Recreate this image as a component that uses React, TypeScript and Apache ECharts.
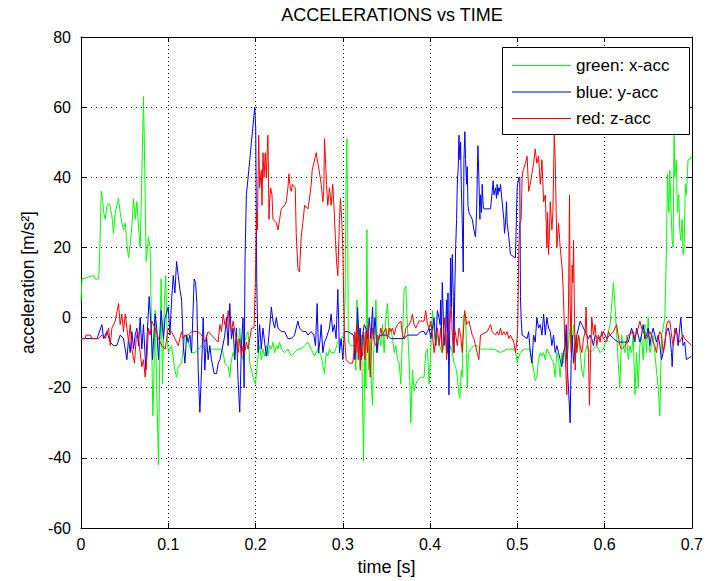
import React, { useEffect, useRef } from "react";
import * as echarts from "echarts";

const titleText = "ACCELERATIONS vs TIME";
const xName = "time [s]";
const yName = "acceleration [m/s²]";
const seriesNames = ["green: x-acc", "blue: y-acc", "red: z-acc"];
const seriesColors = ["#00ff00", "#0000ff", "#ff0000"];
const xTicks = [0, 0.1, 0.2, 0.3, 0.4, 0.5, 0.6, 0.7];
const yTicks = [-60, -40, -20, 0, 20, 40, 60, 80];

// x-acc (green): [time s, acceleration m/s^2]
const xAcc: [number, number][] = [
  [0, 4.5], [0.0011, 11], [0.0145, 12], [0.0164, 11], [0.0202, 11], [0.0213, 17], [0.0232, 36],
  [0.0247, 34], [0.0259, 30], [0.0278, 28], [0.0297, 32], [0.0327, 32.5], [0.0354, 29], [0.0373, 24],
  [0.0392, 30], [0.043, 34], [0.0449, 30], [0.0468, 27], [0.0487, 25], [0.0507, 27], [0.0526, 21],
  [0.0545, 17], [0.0564, 21], [0.0583, 26], [0.0602, 34], [0.0621, 28], [0.064, 33], [0.0659, 26],
  [0.0678, 20], [0.0697, 40], [0.0716, 63], [0.0727, 48], [0.0746, 16], [0.0773, 23], [0.0792, 20],
  [0.0804, 3], [0.0823, -28], [0.0834, -18], [0.0849, 2], [0.0868, -20], [0.0888, -42], [0.0903, -10],
  [0.0918, 11], [0.0933, -19], [0.0956, 5], [0.0971, 12], [0.0987, -5], [0.1, -10], [0.1038, -8],
  [0.1076, -15], [0.1095, -17], [0.1114, -14], [0.1153, -13], [0.1191, -5], [0.1229, -7], [0.1267, -10],
  [0.1305, -10], [0.1343, -9], [0.1381, -8], [0.1419, -9], [0.1457, -10], [0.1495, -9], [0.1534, -9],
  [0.161, -9], [0.1629, -10], [0.1648, -13], [0.1686, -14], [0.1705, -17], [0.1724, -12], [0.1743, -10],
  [0.1762, -12], [0.1781, -6], [0.18, -8], [0.1819, -3], [0.1838, -10], [0.1857, -12], [0.1876, -7],
  [0.1895, -5], [0.1915, -4], [0.1934, -13], [0.1972, -17], [0.1998, -19], [0.2029, -11], [0.2047, -8],
  [0.2066, -12], [0.2085, -9], [0.2104, -11], [0.2123, -8], [0.2142, -11], [0.2161, -8], [0.2181, -9],
  [0.22, -7], [0.2219, -10], [0.2238, -8], [0.2257, -9], [0.2276, -7], [0.2295, -9], [0.2333, -10],
  [0.2371, -9], [0.2409, -11], [0.2447, -10], [0.2485, -9], [0.2523, -9], [0.2562, -8], [0.26, -7],
  [0.2638, -9], [0.2676, -11], [0.2714, -9], [0.2752, -11], [0.279, -16], [0.2809, -10], [0.2828, -11],
  [0.2847, -9], [0.2866, -10], [0.2904, -10], [0.2943, -7], [0.2981, -6], [0.3011, -5], [0.3026, 5],
  [0.3036, 36], [0.3047, 51], [0.3055, 30], [0.3063, -7], [0.3093, -8], [0.3131, -8], [0.315, -15],
  [0.3162, 5], [0.3177, -10], [0.3188, -3], [0.32, -14], [0.3215, -5], [0.3227, -25], [0.3238, -41],
  [0.3253, -5], [0.3265, -20], [0.3276, 25], [0.3284, -2], [0.3295, -15], [0.3314, -5], [0.3329, -20],
  [0.3341, -25], [0.3352, -10], [0.3368, -5], [0.3379, 5], [0.3398, -10], [0.3417, -5], [0.3436, -8],
  [0.3455, -2], [0.3474, -10], [0.3493, 0], [0.3512, 4], [0.3531, -5], [0.355, -3], [0.357, -6],
  [0.3589, -10], [0.3608, -8], [0.3627, -12], [0.3646, -13], [0.3665, -19], [0.3684, -5], [0.3703, 8],
  [0.3722, 9], [0.3741, -3], [0.3752, -8], [0.3768, -18], [0.3779, -30], [0.3798, -15], [0.3817, -21],
  [0.3836, -19], [0.3855, -18], [0.3893, -17], [0.3931, -17], [0.395, -10], [0.397, -9], [0.3989, -19],
  [0.4, -14], [0.4015, -5], [0.4027, 2], [0.4046, -4], [0.4065, -8], [0.4084, -5], [0.4121, -9],
  [0.414, -10], [0.4159, -8], [0.4178, -6], [0.4197, -10], [0.4216, -11], [0.4236, -8], [0.4255, -10],
  [0.4274, -13], [0.4293, -14], [0.4312, -17], [0.4331, -22], [0.4342, -23], [0.4357, -15], [0.4369, -17],
  [0.438, 0], [0.4396, 1], [0.4407, 1], [0.4418, -10], [0.4426, -20], [0.4437, -12], [0.4445, -10],
  [0.4464, -9], [0.4502, -8], [0.454, -8], [0.4578, -9], [0.4655, -9], [0.4731, -9], [0.4807, -10],
  [0.4883, -9], [0.4978, -9], [0.4998, -13], [0.5017, -11], [0.5036, -10], [0.5074, -9], [0.511, -9],
  [0.5148, -9], [0.5167, -12], [0.5186, -15], [0.5205, -18], [0.5224, -17], [0.5243, -12], [0.5263, -10],
  [0.5282, -11], [0.5301, -10], [0.532, -12], [0.5339, -9], [0.5377, -11], [0.5415, -13], [0.5434, -17],
  [0.5453, -10], [0.5472, -12], [0.5491, -17], [0.551, -10], [0.5529, -13], [0.5548, -5], [0.5567, -12],
  [0.5586, -8], [0.5605, -3], [0.5624, -10], [0.5644, -2], [0.5663, -12], [0.5682, -7], [0.5701, -5],
  [0.572, -10], [0.5739, -15], [0.5758, -17], [0.5777, -10], [0.5796, -8], [0.5834, -10], [0.5872, -9],
  [0.591, -8], [0.5948, -10], [0.5986, -9], [0.6025, -6], [0.6044, -4], [0.6063, -2], [0.6082, 4],
  [0.6101, 10], [0.612, 3], [0.6139, -5], [0.6156, -13], [0.6175, -20], [0.6194, -5], [0.6213, -8],
  [0.6233, -10], [0.6252, -5], [0.6271, -12], [0.629, -8], [0.6309, -10], [0.6328, -5], [0.6347, -22],
  [0.6366, -10], [0.6385, -20], [0.6404, -8], [0.6423, -5], [0.6442, -12], [0.6461, -2], [0.648, -10],
  [0.6499, 0], [0.6518, -10], [0.6537, -8], [0.6556, -5], [0.6575, -10], [0.6594, -15], [0.6614, -20],
  [0.6633, -28], [0.6652, -5], [0.6671, -3], [0.669, 0], [0.6709, 20], [0.672, 41], [0.6735, 30],
  [0.6747, 42], [0.6758, 33], [0.6774, 22], [0.6785, 20], [0.6796, 52], [0.6804, 40], [0.6823, 45],
  [0.6834, 30], [0.685, 35], [0.6861, 25], [0.6873, 22], [0.6888, 28], [0.6899, 18], [0.6911, 20],
  [0.6926, 38], [0.6937, 35], [0.6956, 45], [0.6975, 45], [0.6995, 46],
];

// y-acc (blue)
const yAcc: [number, number][] = [
  [0, -6], [0.0183, -6], [0.024, -2], [0.0259, -6], [0.0297, -4], [0.0335, -7], [0.0373, -8],
  [0.0411, -8], [0.0449, -5], [0.0487, -6], [0.0526, -12], [0.0545, -6], [0.0564, -10], [0.0583, -4],
  [0.0602, -9], [0.0621, -5], [0.064, -3], [0.0659, -8], [0.0678, 0], [0.0697, -9], [0.0716, -2],
  [0.0743, -15], [0.0754, -7], [0.0781, 6], [0.0804, -3], [0.0819, -12], [0.0849, 1], [0.0868, -3],
  [0.0888, -12], [0.0918, 2], [0.0945, -6], [0.0964, 0], [0.1, 3], [0.1019, -5], [0.1038, 5],
  [0.1057, 12], [0.1076, 7], [0.1095, 16], [0.1114, 12], [0.1133, 8], [0.1153, 5], [0.1172, -8],
  [0.1191, -13], [0.121, -5], [0.1229, -7], [0.1248, -5], [0.1267, -10], [0.1297, 11], [0.1313, 10],
  [0.1328, 4], [0.1343, -15], [0.1362, -27], [0.1381, -15], [0.14, 0], [0.1419, -15], [0.1438, -5],
  [0.1457, -12], [0.1476, -8], [0.1495, -12], [0.1526, -16], [0.1553, -16], [0.1572, -13], [0.1591, -12],
  [0.161, -10], [0.1648, -5], [0.1667, 0], [0.1686, -8], [0.1705, 4], [0.1724, -6], [0.1743, -3],
  [0.1762, -12], [0.1781, -3], [0.18, -18], [0.1819, -27], [0.1838, -8], [0.1857, 0], [0.1869, -20],
  [0.188, 17], [0.1895, 35], [0.1915, 40], [0.1934, 45], [0.1953, 50], [0.1972, 55], [0.1991, 60],
  [0.2002, 54], [0.2014, 10], [0.2029, -10], [0.2036, -6], [0.2047, -2], [0.2066, -9], [0.2085, -3],
  [0.2104, -7], [0.2123, -11], [0.2142, -8], [0.2161, -3], [0.2181, 3], [0.22, -1], [0.2219, -3],
  [0.2238, 0], [0.2257, -3], [0.2295, -4], [0.2333, -4], [0.2371, -6], [0.2409, -6], [0.2447, -5],
  [0.2485, -1], [0.2504, -3], [0.2542, -4], [0.2581, -4], [0.26, -5], [0.2638, -4], [0.2668, -5],
  [0.2687, -8], [0.2706, 4], [0.2722, -10], [0.2741, -6], [0.2752, -2], [0.2771, -10], [0.279, -7],
  [0.2809, -6], [0.2847, -3], [0.2866, 1], [0.2885, -4], [0.2904, -2], [0.2923, -6], [0.2943, 8],
  [0.2962, -10], [0.2981, -6], [0.3, -12], [0.3019, -4], [0.3057, -4], [0.3124, -5], [0.3139, -12],
  [0.315, -8], [0.3162, -3], [0.3169, 3], [0.3188, -7], [0.32, -3], [0.3208, -12], [0.3227, -5],
  [0.3246, -2], [0.3265, -3], [0.3284, -6], [0.3303, 0], [0.3322, -6], [0.3341, 3], [0.3352, -6],
  [0.3368, 0], [0.3379, -3], [0.339, -10], [0.3406, -6], [0.3436, -5], [0.3512, -5], [0.355, -6],
  [0.3703, -6], [0.3741, -5], [0.3855, -5], [0.3893, -4], [0.3931, -4], [0.395, -5], [0.397, -4],
  [0.3989, -3], [0.4008, -6], [0.4027, -3], [0.4046, 0], [0.4065, -8], [0.4084, 2], [0.4102, 0],
  [0.4114, -2], [0.4121, 5], [0.4129, -6], [0.414, 10], [0.4152, 0], [0.4159, -8], [0.4178, -3],
  [0.419, 5], [0.4197, -10], [0.4205, 7], [0.4216, -22], [0.4228, 2], [0.4236, 17], [0.4243, 3],
  [0.4255, 18], [0.4266, 6], [0.4274, -10], [0.4281, 5], [0.4293, 20], [0.4304, 28], [0.4312, 38],
  [0.4323, 43], [0.4331, 52], [0.4342, 45], [0.435, 50], [0.4357, 38], [0.4369, 27], [0.438, 13],
  [0.4388, 45], [0.4399, 53], [0.4407, 45], [0.4418, 38], [0.4426, 43], [0.4434, 32], [0.4445, 30],
  [0.4483, 28], [0.4502, 25], [0.4521, 23], [0.4533, 30], [0.4548, 49], [0.4559, 40], [0.4571, 28],
  [0.4578, 35], [0.459, 30], [0.4597, 38], [0.4609, 32], [0.4617, 31], [0.4693, 31], [0.4712, 36],
  [0.4723, 39], [0.4731, 35], [0.475, 37], [0.4761, 34], [0.4769, 38], [0.4777, 35], [0.4788, 37],
  [0.4799, 36], [0.4807, 38], [0.4826, 33], [0.4845, 28], [0.4853, 24], [0.4864, 27], [0.4876, 33],
  [0.4883, 27], [0.4902, 23], [0.4914, 20], [0.4921, 18], [0.4978, 17], [0.4998, 37], [0.5017, 40],
  [0.5028, 40], [0.5036, 6], [0.5043, 0], [0.5055, -5], [0.5112, -6], [0.513, -4], [0.5148, -10],
  [0.5167, -13], [0.5186, -5], [0.5205, -7], [0.5224, 0], [0.5243, -3], [0.5263, -2], [0.5282, -5],
  [0.5301, 1], [0.532, -5], [0.5339, 0], [0.5358, -3], [0.5377, -4], [0.5396, -8], [0.5415, -5],
  [0.5434, -10], [0.5453, -8], [0.5472, -10], [0.5491, -12], [0.551, -14], [0.5529, -10], [0.5548, -8],
  [0.556, -2], [0.5567, -12], [0.5579, -17], [0.559, -22], [0.5605, -30], [0.5617, -12], [0.5628, -5],
  [0.5644, -13], [0.5663, -8], [0.5682, -5], [0.5701, -3], [0.572, -1], [0.5739, -2], [0.5758, -3],
  [0.5796, -5], [0.5815, -6], [0.5834, -5], [0.5853, -6], [0.5872, -8], [0.5891, -5], [0.5929, -6],
  [0.5967, -5], [0.5986, -4], [0.6025, -6], [0.6063, -5], [0.6101, -6], [0.6156, -7], [0.6271, -7],
  [0.629, -5], [0.6309, -3], [0.6328, -5], [0.6347, -7], [0.6366, -3], [0.6385, -5], [0.6404, -7],
  [0.6423, -5], [0.6442, -2], [0.6461, -6], [0.648, -5], [0.6499, -3], [0.6518, -8], [0.6537, -5],
  [0.6556, -3], [0.6575, -5], [0.6594, -7], [0.6614, -5], [0.6633, -8], [0.6652, -12], [0.6671, -10],
  [0.669, -7], [0.6709, -4], [0.6728, -3], [0.6747, -5], [0.6766, -10], [0.6774, -14], [0.6785, -8],
  [0.6804, -5], [0.6823, -3], [0.6842, -8], [0.6861, -3], [0.6873, 0], [0.6888, -5], [0.6899, -8],
  [0.6918, -7], [0.6937, -12], [0.6995, -11],
];

// z-acc (red)
const zAcc: [number, number][] = [
  [0, -6], [0.0049, -6], [0.0057, -5], [0.0106, -5], [0.0126, -6], [0.0202, -6], [0.024, -5],
  [0.0278, -6], [0.0316, -3], [0.0335, -8], [0.0354, -3], [0.0392, -1], [0.043, 4], [0.0449, -2],
  [0.0468, 1], [0.0487, -4], [0.0507, 1], [0.0526, -3], [0.0545, -7], [0.0564, -2], [0.0583, -9],
  [0.0613, -13], [0.0632, -6], [0.0651, -4], [0.0678, -10], [0.0697, -14], [0.0716, -12], [0.0735, -17],
  [0.0754, -12], [0.0773, -3], [0.0792, -5], [0.0811, -1], [0.0849, -3], [0.0888, -6], [0.0926, -8],
  [0.0964, -9], [0.1, -3], [0.1038, -4], [0.1076, -6], [0.1114, -8], [0.1153, -4], [0.1172, -6],
  [0.1191, -5], [0.1229, -5], [0.1267, -4], [0.1343, -4], [0.1381, -5], [0.1419, -7], [0.1457, -4],
  [0.1495, -5], [0.1534, -6], [0.1572, -7], [0.1591, -2], [0.161, -4], [0.1629, 1], [0.1648, -2],
  [0.1667, -3], [0.1686, 2], [0.1705, -2], [0.1724, -4], [0.1743, -1], [0.1762, -4], [0.1781, -6],
  [0.18, -10], [0.1819, -6], [0.1838, -11], [0.1857, -8], [0.1876, -10], [0.1895, -7], [0.1915, -9],
  [0.1934, -6], [0.1953, -3], [0.1983, -3], [0.1998, 10], [0.201, 30], [0.2021, 25], [0.2036, 52],
  [0.2047, 37], [0.2066, 42], [0.2074, 32], [0.2085, 47], [0.2097, 40], [0.2112, 47], [0.2123, 40],
  [0.2135, 48], [0.2142, 52], [0.2154, 28], [0.2161, 33], [0.2173, 37], [0.2188, 35], [0.22, 28],
  [0.2238, 27], [0.2257, 25], [0.2276, 28], [0.2295, 31], [0.2333, 32], [0.2352, 33], [0.2371, 37],
  [0.2382, 41], [0.2398, 37], [0.2409, 36], [0.2421, 38], [0.2455, 37], [0.2466, 24], [0.2485, 14],
  [0.2504, 13], [0.2523, 23], [0.2542, 27], [0.2562, 32], [0.26, 31], [0.2619, 34], [0.2638, 38],
  [0.2649, 42], [0.2668, 44], [0.2695, 47], [0.2706, 45], [0.2722, 43], [0.2741, 40], [0.2752, 38],
  [0.2771, 33], [0.2782, 36], [0.279, 51], [0.2802, 45], [0.2813, 38], [0.2828, 32], [0.2847, 37],
  [0.2866, 32], [0.2885, 38], [0.2904, 29], [0.2916, 22], [0.2931, 15], [0.2943, 12], [0.2962, 28],
  [0.2973, 34], [0.2988, 28], [0.3, 20], [0.3011, 4], [0.3019, -5], [0.3038, -12], [0.3076, -13],
  [0.3112, -13], [0.3124, -11], [0.3139, -4], [0.315, -10], [0.3162, -2], [0.3177, -12], [0.3188, -5],
  [0.32, -15], [0.3208, -8], [0.3227, -11], [0.3238, -4], [0.3253, -12], [0.3265, -4], [0.3284, -10],
  [0.3291, -2], [0.3314, -17], [0.3329, -8], [0.3341, -3], [0.336, -7], [0.3379, -8], [0.3398, -5],
  [0.3417, -6], [0.3436, -3], [0.3455, -5], [0.3493, -3], [0.3512, -6], [0.3531, -3], [0.355, -4],
  [0.357, -3], [0.3589, -5], [0.3608, -3], [0.3627, -2], [0.3665, -1], [0.3684, -5], [0.3703, -6],
  [0.3722, -3], [0.376, -2], [0.3779, -1], [0.3798, 1], [0.3817, -2], [0.3836, -3], [0.3855, -2],
  [0.3874, -1], [0.3931, -1], [0.395, 2], [0.397, -2], [0.3989, -3], [0.4008, -1], [0.4027, -5],
  [0.4046, -10], [0.4065, -6], [0.4084, -3], [0.4102, -8], [0.4121, -3], [0.414, -10], [0.4152, -5],
  [0.4167, 0], [0.4178, -5], [0.419, -12], [0.4197, -5], [0.4216, -3], [0.4236, 2], [0.4243, 3],
  [0.4255, -5], [0.4266, -10], [0.4281, -3], [0.4293, -5], [0.4312, -8], [0.4331, -3], [0.435, -5],
  [0.4369, -10], [0.438, -5], [0.4396, 2], [0.4407, 0], [0.4418, -2], [0.4445, -1], [0.4464, -3],
  [0.4483, -5], [0.4502, -6], [0.4521, -8], [0.454, -10], [0.4559, -12], [0.4578, -5], [0.4655, -4],
  [0.4674, -3], [0.4693, -2], [0.4712, -4], [0.475, -5], [0.4769, -4], [0.4788, -5], [0.4807, -3],
  [0.4826, -5], [0.4845, -4], [0.4864, -5], [0.4883, -4], [0.4902, -6], [0.4921, -5], [0.494, -6],
  [0.4959, -7], [0.4978, -10], [0.4998, -6], [0.5005, -2], [0.5017, 20], [0.5028, 27], [0.5043, 28],
  [0.5055, 40], [0.5066, 42], [0.5093, 44], [0.5112, 46], [0.513, 36], [0.5148, 38], [0.5167, 41],
  [0.5186, 44], [0.5205, 48], [0.5224, 44], [0.5243, 46], [0.5263, 38], [0.5282, 45], [0.5301, 33],
  [0.532, 35], [0.5339, 20], [0.5346, 30], [0.5358, 18], [0.5369, 25], [0.5377, 33], [0.5396, 25],
  [0.5407, 30], [0.5423, 52], [0.5434, 45], [0.5445, 30], [0.5453, 20], [0.5472, 27], [0.5491, 20],
  [0.551, 15], [0.5522, 10], [0.5529, 5], [0.5548, -10], [0.556, -18], [0.5567, -22], [0.5579, -5],
  [0.5586, 3], [0.5598, 35], [0.5605, 5], [0.5617, -10], [0.5628, 15], [0.5636, 10], [0.5644, 22],
  [0.5655, 0], [0.5663, -15], [0.5674, -5], [0.5682, -10], [0.5701, -5], [0.572, -8], [0.5739, -10],
  [0.5758, -6], [0.5777, -4], [0.5788, 3], [0.5796, -5], [0.5815, -10], [0.5826, -25], [0.5842, -8],
  [0.5853, 0], [0.5872, -5], [0.5891, -2], [0.591, -8], [0.5929, -5], [0.5948, -7], [0.5967, -4],
  [0.5986, -6], [0.6025, -7], [0.6044, -4], [0.6063, -5], [0.6101, -4], [0.6137, -2], [0.6156, -5],
  [0.6175, -8], [0.6194, -9], [0.6233, -8], [0.6252, -7], [0.6271, -5], [0.6328, -4], [0.6347, -6],
  [0.6366, -4], [0.6385, -3], [0.6404, -1], [0.6423, -3], [0.6442, -4], [0.648, -6], [0.6499, -5],
  [0.6518, -4], [0.6537, -5], [0.6556, -7], [0.6575, -8], [0.6594, -10], [0.6614, -6], [0.6633, -4],
  [0.6652, -5], [0.6671, -10], [0.669, -8], [0.6709, -2], [0.6728, -1], [0.6747, -1], [0.6766, -5],
  [0.6785, -8], [0.6804, -3], [0.6823, -4], [0.6842, -6], [0.6861, -7], [0.688, -6], [0.6899, -5],
  [0.6918, -6], [0.6956, -7], [0.6995, -8],
];

const FONT = "'Liberation Sans', Arial, sans-serif";

export default function App() {
  const ref = useRef<HTMLDivElement>(null);
  useEffect(() => {
    if (!ref.current) return;
    const chart = echarts.init(ref.current, undefined, { renderer: "svg" });
    const gridStyle = { color: "#000", width: 1 };
    const commonLabel = { color: "#000", fontSize: 16, fontFamily: FONT };
    const option: any = {
      animation: false,
      backgroundColor: "#fff",
      textStyle: { fontFamily: FONT, color: "#000" },
      title: {
        text: titleText,
        left: 387,
        top: 1,
        textAlign: "center",
        textStyle: { fontSize: 18, fontWeight: "normal", color: "#000", fontFamily: FONT },
      },
      grid: { left: 81, right: 12, top: 37, bottom: 52, containLabel: false },
      legend: {
        data: seriesNames,
        orient: "vertical",
        left: 512,
        top: 57,
        padding: 0,
        itemGap: 9.5,
        itemWidth: 59,
        itemHeight: 1,
        icon: "rect",
        selectedMode: false,
        textStyle: { fontSize: 17, color: "#000", fontFamily: FONT },
        z: 10,
      },
      graphic: [
        {
          type: "rect",
          z: 9,
          shape: { x: 502.5, y: 47.5, width: 187, height: 87 },
          style: { fill: "#fff", stroke: "#000", lineWidth: 1 },
        },
      ],
      xAxis: [
        {
          type: "value",
          min: xTicks[0],
          max: xTicks[xTicks.length - 1],
          interval: 0.1,
          name: xName,
          nameLocation: "middle",
          nameGap: 30,
          nameTextStyle: { fontSize: 18, color: "#000", fontFamily: FONT },
          axisLine: { show: true, onZero: false, lineStyle: { color: "#000", width: 1 } },
          axisTick: { show: true, inside: true, length: 5, lineStyle: { color: "#000" } },
          axisLabel: {
            ...commonLabel,
            margin: 8,
            formatter: (v: number) => (v === 0 ? "0" : v.toFixed(1)),
          },
          splitLine: { show: true, lineStyle: { ...gridStyle, type: [1, 3] } },
        },
        {
          type: "value",
          position: "top",
          min: xTicks[0],
          max: xTicks[xTicks.length - 1],
          interval: 0.1,
          axisLine: { show: true, onZero: false, lineStyle: { color: "#000", width: 1 } },
          axisTick: { show: true, inside: true, length: 5, lineStyle: { color: "#000" } },
          axisLabel: { show: false },
          splitLine: { show: false },
        },
      ],
      yAxis: [
        {
          type: "value",
          min: yTicks[0],
          max: yTicks[yTicks.length - 1],
          interval: 20,
          name: yName,
          nameLocation: "middle",
          nameGap: 35,
          nameRotate: 90,
          nameTextStyle: { fontSize: 17.5, color: "#000", fontFamily: FONT },
          axisLine: { show: true, onZero: false, lineStyle: { color: "#000", width: 1 } },
          axisTick: { show: true, inside: true, length: 5, lineStyle: { color: "#000" } },
          axisLabel: { ...commonLabel, margin: 10 },
          splitLine: { show: true, lineStyle: { ...gridStyle, type: [1, 4] } },
        },
        {
          type: "value",
          position: "right",
          min: yTicks[0],
          max: yTicks[yTicks.length - 1],
          interval: 20,
          axisLine: { show: true, onZero: false, lineStyle: { color: "#000", width: 1 } },
          axisTick: { show: true, inside: true, length: 5, lineStyle: { color: "#000" } },
          axisLabel: { show: false },
          splitLine: { show: false },
        },
      ],
      series: [xAcc, yAcc, zAcc].map((d, i) => ({
        name: seriesNames[i],
        type: "line",
        data: d,
        xAxisIndex: 0,
        yAxisIndex: 0,
        showSymbol: false,
        symbol: "none",
        color: seriesColors[i],
        lineStyle: { color: seriesColors[i], width: 1 },
        itemStyle: { color: seriesColors[i] },
        clip: true,
        z: 2 + i,
      })),
    };
    chart.setOption(option);
    return () => chart.dispose();
  }, []);
  return (
    <div
      ref={ref}
      style={{ position: "absolute", left: 0, top: 0, width: 706, height: 581 }}
    />
  );
}
